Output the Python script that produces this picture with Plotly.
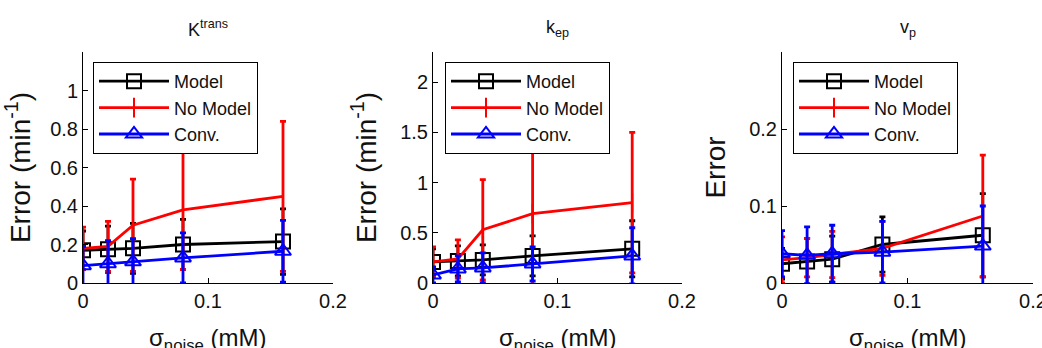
import plotly.graph_objects as go

# ---------------- data ----------------
sigma_noise = [0, 0.02, 0.04, 0.08, 0.16]

# K^trans
ktrans_model = [0.17, 0.175, 0.18, 0.20, 0.215]
ktrans_model_err = [0.10, 0.12, 0.13, 0.13, 0.17]
ktrans_nomodel = [0.18, 0.19, 0.30, 0.38, 0.45]
ktrans_nomodel_err = [0.11, 0.13, 0.24, 0.31, 0.39]
ktrans_conv = [0.09, 0.10, 0.11, 0.13, 0.165]
ktrans_conv_err = [0.10, 0.12, 0.12, 0.13, 0.16]

# k_ep
kep_model = [0.21, 0.22, 0.23, 0.27, 0.34]
kep_model_err = [0.13, 0.15, 0.15, 0.20, 0.28]
kep_nomodel = [0.21, 0.24, 0.53, 0.69, 0.80]
kep_nomodel_err = [0.15, 0.19, 0.50, 0.72, 0.70]
kep_conv = [0.08, 0.14, 0.15, 0.19, 0.27]
kep_conv_err = [0.08, 0.13, 0.15, 0.17, 0.28]

# v_p
vp_model = [0.025, 0.028, 0.031, 0.050, 0.062]
vp_model_err = [0.020, 0.030, 0.030, 0.036, 0.054]
vp_nomodel = [0.030, 0.033, 0.037, 0.045, 0.087]
vp_nomodel_err = [0.030, 0.025, 0.030, 0.035, 0.079]
vp_conv = [0.038, 0.036, 0.038, 0.040, 0.048]
vp_conv_err = [0.030, 0.037, 0.037, 0.040, 0.052]

series_names = ["Model", "No Model", "Conv."]
panel_titles = ["K<sup>trans</sup>", "k<sub>ep</sub>", "v<sub>p</sub>"]
y_titles = ["Error (min<sup>-1</sup>)", "Error (min<sup>-1</sup>)", "Error"]
x_title = "σ<sub>noise</sub> (mM)"
x_ticks = [0, 0.1, 0.2]
y_ticks = [[0, 0.2, 0.4, 0.6, 0.8, 1], [0, 0.5, 1, 1.5, 2], [0, 0.1, 0.2]]
y_ranges = [[0, 1.2], [0, 2.3], [0, 0.3]]

panels = [
    [(ktrans_model, ktrans_model_err), (ktrans_nomodel, ktrans_nomodel_err), (ktrans_conv, ktrans_conv_err)],
    [(kep_model, kep_model_err), (kep_nomodel, kep_nomodel_err), (kep_conv, kep_conv_err)],
    [(vp_model, vp_model_err), (vp_nomodel, vp_nomodel_err), (vp_conv, vp_conv_err)],
]

# ---------------- style ----------------
W, H = 1042, 348
FONT = "Arial, 'Liberation Sans', Helvetica, sans-serif"
colors = ["#000000", "#ff0000", "#0000ff"]
symbols = ["square-open", "line-ns-open", "triangle-up-open"]
x_px = [(83, 333), (433, 682), (782, 1033)]
y_top, y_bot = 52, 283
legend_left_px = [93, 445, 793]
legend_top_px = 62
xtitle_mid_px = 339

fig = go.Figure()
for p, series in enumerate(panels):
    sfx = "" if p == 0 else str(p + 1)
    leg = "legend" + sfx
    for s, (vals, errs) in enumerate(series):
        fig.add_trace(go.Scatter(
            x=sigma_noise, y=vals,
            mode="lines+markers",
            name=series_names[s],
            legend=leg,
            xaxis="x" + sfx, yaxis="y" + sfx,
            line=dict(color=colors[s], width=2.8),
            marker=dict(symbol=symbols[s], size=14, color=colors[s],
                        line=dict(color=colors[s], width=2)),
            error_y=dict(type="data", array=errs, visible=True,
                         color=colors[s], thickness=2.8, width=3),
        ))

layout = dict(
    width=W, height=H,
    margin=dict(l=0, r=0, t=0, b=0),
    paper_bgcolor="white", plot_bgcolor="white",
    font=dict(family=FONT, color="#111111", size=20),
    annotations=[],
    showlegend=True,
)
for p in range(3):
    sfx = "" if p == 0 else str(p + 1)
    x0, x1 = x_px[p]
    layout["xaxis" + sfx] = dict(
        domain=[x0 / W, x1 / W], anchor="y" + sfx, automargin=False,
        range=[0, 0.2], tickvals=x_ticks, ticktext=["0", "0.1", "0.2"],
        ticklabeloverflow="allow",
        showline=True, linecolor="black", linewidth=1,
        ticks="inside", ticklen=5, tickcolor="black",
        showgrid=False, zeroline=False,
        tickfont=dict(size=20, family=FONT),
    )
    layout["yaxis" + sfx] = dict(
        domain=[(H - y_bot) / H, (H - y_top) / H], anchor="x" + sfx, automargin=False,
        range=y_ranges[p], tickvals=y_ticks[p],
        ticklabeloverflow="allow",
        showline=True, linecolor="black", linewidth=1,
        ticks="inside", ticklen=5, tickcolor="black",
        showgrid=False, zeroline=False,
        tickfont=dict(size=20, family=FONT),
        title=dict(text=y_titles[p], font=dict(size=28, family=FONT)),
    )
    layout["legend" + sfx] = dict(
        x=legend_left_px[p] / W, y=(H - legend_top_px) / H,
        xanchor="left", yanchor="top",
        bgcolor="white", bordercolor="black", borderwidth=1,
        font=dict(size=18, family=FONT, color="#111111"),
        itemwidth=70,
    )
    layout["annotations"].append(dict(
        text=panel_titles[p], x=(x0 + x1) / 2 / W, y=(H - 28) / H,
        xref="paper", yref="paper", showarrow=False,
        xanchor="center", yanchor="middle",
        font=dict(size=18, family=FONT, color="#111111"),
    ))
    # x-axis title (placed as annotation so it can sit at the page bottom like the original)
    layout["annotations"].append(dict(
        text=x_title, x=(x0 + x1) / 2 / W, y=(H - xtitle_mid_px) / H,
        xref="paper", yref="paper", showarrow=False,
        xanchor="center", yanchor="middle",
        font=dict(size=24, family=FONT, color="#111111"),
    ))

fig.update_layout(**layout)
fig.write_html(
    "out.html",
    config={"displayModeBar": False},
    post_script="document.body.style.margin='0';document.body.style.overflow='hidden';",
)
